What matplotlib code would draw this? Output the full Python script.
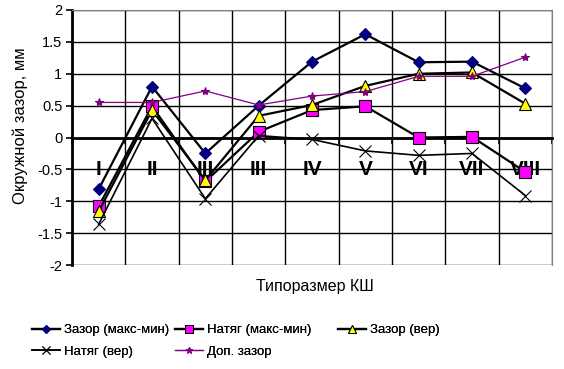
import matplotlib
matplotlib.use("Agg")
import matplotlib.pyplot as plt
from matplotlib.lines import Line2D
from matplotlib.ticker import FixedLocator, NullFormatter

plt.rcParams['font.family'] = ['Liberation Sans', 'DejaVu Sans']

categories = ['I', 'II', 'III', 'III', 'IV', 'V', 'VI', 'VII', 'VIII']
zazor_mm = [-0.81, 0.80, -0.25, 0.50, 1.19, 1.62, 1.18, 1.19, 0.77]
natyag_mm = [-1.08, 0.49, -0.69, 0.09, 0.43, 0.49, 0.00, 0.01, -0.54]
zazor_ver = [-1.16, 0.43, -0.67, 0.34, 0.51, 0.81, 1.00, 1.02, 0.53]
natyag_ver = [-1.36, 0.30, -0.96, 0.03, -0.03, -0.21, -0.28, -0.25, -0.91]
dop_zazor = [0.55, 0.55, 0.73, 0.51, 0.65, 0.72, 0.96, 0.96, 1.26]

x = list(range(len(categories)))

# style per series: (label, line colour, lw, marker, size, face, edge)
styles = [
    ('Зазор (макс-мин)', 'black', 1.6, 'D', 6, '#000080', '#000080'),
    ('Натяг (макс-мин)', 'black', 1.6, 's', 8, '#FF00FF', 'black'),
    ('Зазор (вер)', 'black', 1.6, '^', 8, '#FFFF00', 'black'),
    ('Натяг (вер)', 'black', 1.2, 'x', 8, 'black', 'black'),
    ('Доп. зазор', '#800080', 0.9, '*', 6, '#800080', '#800080'),
]
series = [zazor_mm, natyag_mm, zazor_ver, natyag_ver, dop_zazor]

fig = plt.figure(figsize=(5.64, 3.69), dpi=100)
ax = fig.add_axes([0.1277, 0.2818, 0.851, 0.6911])
ax.spines['bottom'].set_position(('data', 0))

proxies = []
for (lab, col, lw, mk, ms, fc, ec), vals in zip(styles, series):
    ax.plot(x, vals, color=col, lw=lw, marker=mk, ms=ms, mfc=fc, mec=ec,
            mew=0.8, zorder=4)
    proxies.append(Line2D([], [], color=col, lw=lw, marker=mk, ms=ms * 0.75,
                          mfc=fc, mec=ec, mew=0.7, label=lab))

ax.set_xlim(-0.5, len(categories) - 0.5)
ax.set_ylim(-2, 2)
ax.set_yticks([-2, -1.5, -1, -0.5, 0, 0.5, 1, 1.5, 2])
ax.set_yticklabels(['-2', '-1.5', '-1', '-0.5', '0', '0.5', '1', '1.5', '2'], fontsize=10.5)

ax.xaxis.set_major_locator(FixedLocator(x))
ax.set_xticklabels(categories, fontsize=15, fontweight='bold')
ax.xaxis.set_minor_locator(FixedLocator([i - 0.5 for i in range(len(categories) + 1)]))
ax.xaxis.set_minor_formatter(NullFormatter())
ax.tick_params(axis='x', which='major', length=0, pad=16)
ax.tick_params(axis='x', which='minor', length=4, width=1.2, direction='out')
ax.tick_params(axis='y', length=4, width=1.2, direction='out', pad=3)

ax.grid(True, axis='y', which='major', color='black', lw=1)
ax.grid(True, axis='x', which='minor', color='black', lw=1)
ax.set_axisbelow(True)

ax.spines['bottom'].set_linewidth(2)
ax.spines['left'].set_linewidth(2)
ax.spines['top'].set_color('gray')
ax.spines['right'].set_color('gray')

fig.text(20 / 564, 1 - 126 / 369, 'Окружной зазор, мм', rotation=90,
         ha='center', va='center', fontsize=12)
fig.text(315 / 564, 1 - 287 / 369, 'Типоразмер КШ', ha='center', va='center',
         fontsize=11.5)

# three legend columns, placed like the original
leg_kw = dict(loc='upper left', frameon=False, fontsize=9.5, handlelength=2.1,
              handletextpad=0.3, labelspacing=0.7, borderpad=0, borderaxespad=0)
for idx, x0 in [([0, 3], 32), ([1, 4], 175), ([2], 338)]:
    hs = [proxies[i] for i in idx]
    leg = fig.legend(handles=hs, bbox_to_anchor=(x0 / 564, 1 - 324 / 369), **leg_kw)
    fig.add_artist(leg)

fig.savefig('out.png', dpi=100)
